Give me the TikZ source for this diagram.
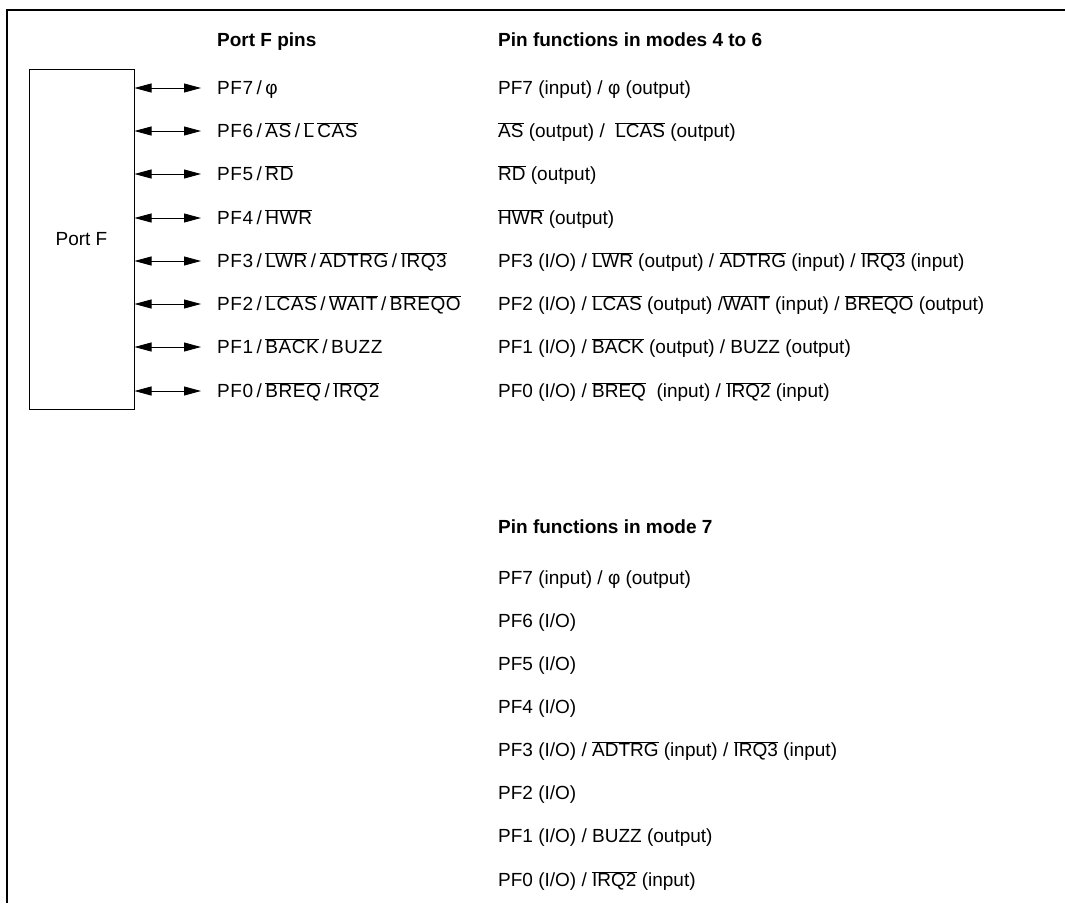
\documentclass[tikz,border=0pt]{standalone}
\usepackage{fontspec}
\setmainfont{Liberation Sans}
\newfontfamily\pinfont[LetterSpace=3]{Liberation Sans}
\usetikzlibrary{arrows.meta}
\newcommand\olx[1]{\ensuremath{\overline{\hbox{#1}}}}
\newcommand\phix{φ}
\newcommand\psl{\hspace{3.5pt}/\hspace{3.5pt}}
\begin{document}
\begin{tikzpicture}[x=1pt,y=-1pt, font=\fontsize{19}{21}\selectfont,
  lbl/.style={anchor=base west, inner sep=0pt},
  pinlbl/.style={lbl, font=\fontsize{19}{21}\pinfont},
  hdr/.style={lbl, font=\fontsize{19}{21}\selectfont\bfseries},
  pinarrow/.style={{Triangle[length=17pt,width=9pt]}-{Triangle[length=17pt,width=9pt]}, line width=0.8pt}]
\useasboundingbox (0,0) rectangle (1065,903);
\draw[line width=2.2pt] (7,903) -- (7,10) -- (1065,10);
\node[draw, line width=1pt, minimum width=105pt, minimum height=340pt, inner sep=0pt] (portf) at (81.5,239) {Port F};

\node[hdr] (h1) at (217,46.5) {Port F pins};
\node[hdr] (h2) at (498,46.5) {Pin functions in modes 4 to 6};
\node[hdr] (h3) at (498,533.5) {Pin functions in mode 7};

% pin labels
\node[pinlbl] (p7) at (217,94.5) {PF7\psl\phix};
\node[pinlbl] (p6) at (217,137.5) {PF6\psl\olx{AS}\psl\olx{L}\,\olx{CAS}};
\node[pinlbl] (p5) at (217,180.5) {PF5\psl\olx{RD}};
\node[pinlbl] (p4) at (217,224.5) {PF4\psl\olx{HWR}};
\node[pinlbl] (p3) at (217,267.5) {PF3\psl\olx{LWR}\psl\olx{ADTRG}\psl\olx{IRQ3}};
\node[pinlbl] (p2) at (217,310.5) {PF2\psl\olx{LCAS}\psl\olx{WAIT}\psl\olx{BREQO}};
\node[pinlbl] (p1) at (217,353.5) {PF1\psl\olx{BACK}\psl BUZZ};
\node[pinlbl] (p0) at (217,397.5) {PF0\psl\olx{BREQ}\psl\olx{IRQ2}};

% arrows
\foreach \n/\y in {7/88,6/131,5/174,4/218,3/261,2/304,1/347,0/391}{
  \coordinate (e\n) at (201,\y);
  \draw[pinarrow] (portf.east |- e\n) -- (e\n);
}

% modes 4 to 6
\node[lbl] (a7) at (498,94.5) {PF7 (input) / \phix{} (output)};
\node[lbl] (a6) at (498,137.5) {\olx{AS} (output) /\ \ \olx{LCAS} (output)};
\node[lbl] (a5) at (498,180.5) {\olx{RD} (output)};
\node[lbl] (a4) at (498,224.5) {\olx{HWR} (output)};
\node[lbl] (a3) at (498,267.5) {PF3 (I/O) / \olx{LWR} (output) / \olx{ADTRG} (input) / \olx{IRQ3} (input)};
\node[lbl] (a2) at (498,310.5) {PF2 (I/O) / \olx{LCAS} (output) /\olx{WAIT} (input) / \olx{BREQO} (output)};
\node[lbl] (a1) at (498,353.5) {PF1 (I/O) / \olx{BACK} (output) / BUZZ (output)};
\node[lbl] (a0) at (498,397.5) {PF0 (I/O) / \olx{BREQ}\ \ (input) / \olx{IRQ2} (input)};

% mode 7
\node[lbl] (m7) at (498,584.5) {PF7 (input) / \phix{} (output)};
\node[lbl] (m6) at (498,627.5) {PF6 (I/O)};
\node[lbl] (m5) at (498,670.5) {PF5 (I/O)};
\node[lbl] (m4) at (498,713.5) {PF4 (I/O)};
\node[lbl] (m3) at (498,756.5) {PF3 (I/O) / \olx{ADTRG} (input) / \olx{IRQ3} (input)};
\node[lbl] (m2) at (498,799.5) {PF2 (I/O)};
\node[lbl] (m1) at (498,842.5) {PF1 (I/O) / BUZZ (output)};
\node[lbl] (m0) at (498,886.5) {PF0 (I/O) / \olx{IRQ2} (input)};
\end{tikzpicture}
\end{document}
